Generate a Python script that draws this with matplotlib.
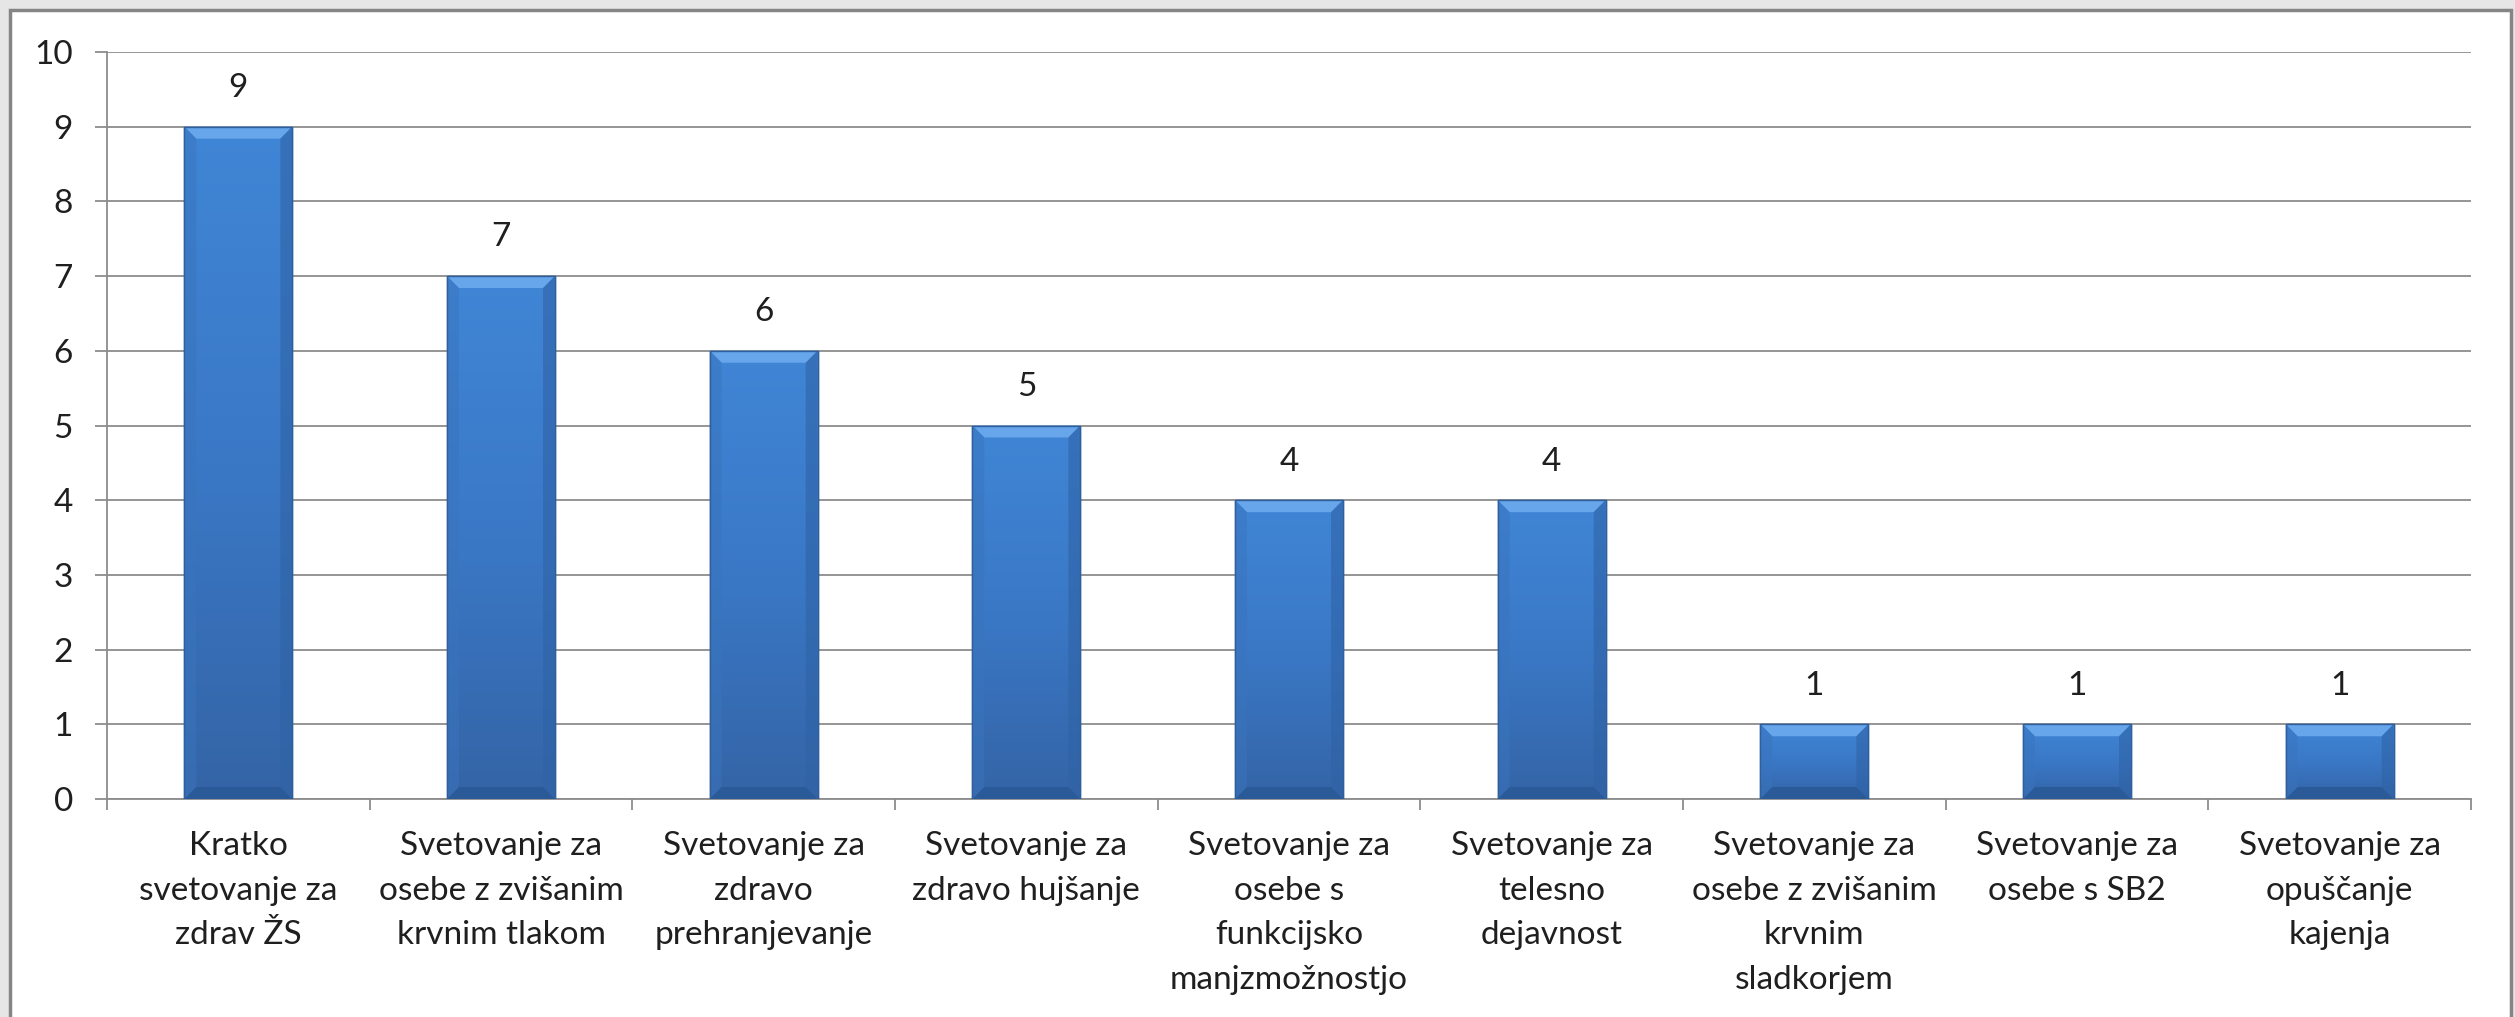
import numpy as np
import matplotlib
matplotlib.use("Agg")
import matplotlib.pyplot as plt
from matplotlib.patches import Rectangle, Polygon
from matplotlib.colors import LinearSegmentedColormap

# Data
categories = [
    "Kratko\nsvetovanje za\nzdrav ŽS",
    "Svetovanje za\nosebe z zvišanim\nkrvnim tlakom",
    "Svetovanje za\nzdravo\nprehranjevanje",
    "Svetovanje za\nzdravo hujšanje",
    "Svetovanje za\nosebe s\nfunkcijsko\nmanjzmožnostjo",
    "Svetovanje za\ntelesno\ndejavnost",
    "Svetovanje za\nosebe z zvišanim\nkrvnim\nsladkorjem",
    "Svetovanje za\nosebe s SB2",
    "Svetovanje za\nopuščanje\nkajenja",
]
values = [9, 7, 6, 5, 4, 4, 1, 1, 1]
y_ticks = list(range(0, 11))

plt.rcParams["font.family"] = ["Lato", "DejaVu Sans"]
TEXT = "#1f1f1f"
GRID = "#8c8c8c"
FS = 24

W, H = 2515, 1017
fig = plt.figure(figsize=(W / 100, H / 100), dpi=100)
fig.patch.set_facecolor("#e6e6e6")

# white chart area with grey frame
frame = Rectangle((10 / W, -0.01), (2511 - 10) / W, 1 - 10 / H + 0.01,
                  transform=fig.transFigure, facecolor="white",
                  edgecolor="#858585", linewidth=2.5, zorder=-5)
fig.patches.append(frame)

ax = fig.add_axes([107 / W, 1 - 799 / H, (2471 - 107) / W, (799 - 52) / H])
ax.set_zorder(2)
ax.set_facecolor("none")

x = np.arange(len(categories))
bar_w = 0.41
ax.set_xlim(-0.5, len(categories) - 0.5)
ax.set_ylim(0, 10)

# gridlines
ax.set_yticks(y_ticks)
ax.yaxis.grid(True, color=GRID, linewidth=1.3, zorder=1)
ax.set_axisbelow(True)

for s in ["top", "right"]:
    ax.spines[s].set_visible(False)
for s in ["left", "bottom"]:
    ax.spines[s].set_color(GRID)
    ax.spines[s].set_linewidth(1.3)

ax.tick_params(axis="y", length=8.5, width=1.3, color=GRID, pad=16,
               labelsize=FS, labelcolor=TEXT)
ax.set_yticklabels([str(t) for t in y_ticks])

# category ticks at boundaries, labels at centres
ax.set_xticks(x)
ax.set_xticklabels(categories, fontsize=FS, color=TEXT, linespacing=1.61,
                   va="top")
ax.set_xticks(np.arange(-0.5, len(categories), 1.0), minor=True)
ax.tick_params(axis="x", which="major", length=0, pad=23)
ax.tick_params(axis="x", which="minor", length=8, width=1.3, color=GRID)

# bars with gradient and bevel
cmap = LinearSegmentedColormap.from_list("bar", ["#3464a6", "#3a78c6", "#4086d6"])
grad = np.linspace(0, 1, 256).reshape(-1, 1)
grad = np.hstack([grad] * 2)
bars = ax.bar(x, values, width=bar_w, color="#3b7bcb", edgecolor="#2f5f9c",
              linewidth=1.0, zorder=3)

dx = 0.045
dy = 0.16
for b, v in zip(bars, values):
    x0 = b.get_x()
    x1 = x0 + b.get_width()
    im = ax.imshow(grad, extent=[x0, x1, 0, v], origin="lower", cmap=cmap,
                   aspect="auto", zorder=3.5)
    im.set_clip_path(b)
    # top bevel
    ax.add_patch(Polygon([(x0, v), (x1, v), (x1 - dx, v - dy), (x0 + dx, v - dy)],
                         closed=True, facecolor="#68a6ec", edgecolor="none",
                         zorder=4))
    # side bevels
    ax.add_patch(Polygon([(x0, v), (x0 + dx, v - dy), (x0 + dx, dy), (x0, 0)],
                         closed=True, facecolor="#3a74bd", edgecolor="none",
                         alpha=0.5, zorder=4))
    ax.add_patch(Polygon([(x1, v), (x1 - dx, v - dy), (x1 - dx, dy), (x1, 0)],
                         closed=True, facecolor="#2f63a6", edgecolor="none",
                         alpha=0.6, zorder=4))
    # bottom bevel
    ax.add_patch(Polygon([(x0, 0), (x1, 0), (x1 - dx, dy), (x0 + dx, dy)],
                         closed=True, facecolor="#2b5a98", edgecolor="none",
                         zorder=4))
    ax.add_patch(Rectangle((x0, 0), x1 - x0, v, facecolor="none",
                           edgecolor="#2f5f9c", linewidth=1.0, zorder=5))
    ax.annotate(str(v), (b.get_x() + b.get_width() / 2, v),
                xytext=(0, 17), textcoords="offset points",
                ha="center", va="bottom", fontsize=FS, color=TEXT)

fig.savefig("out.png", dpi=100, facecolor=fig.get_facecolor())
